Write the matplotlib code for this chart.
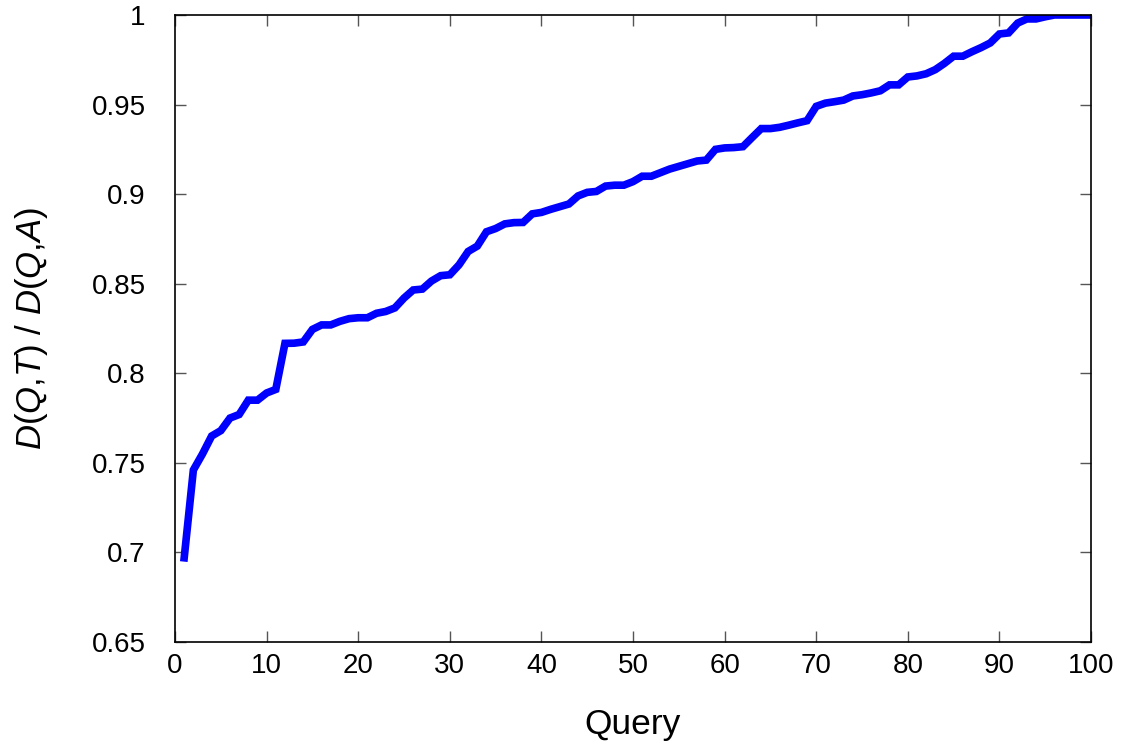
import matplotlib
matplotlib.use('Agg')
import matplotlib.pyplot as plt

plt.rcParams['font.family'] = ['Liberation Sans', 'DejaVu Sans']
plt.rcParams['mathtext.fontset'] = 'custom'
plt.rcParams['mathtext.rm'] = 'Liberation Sans'
plt.rcParams['mathtext.it'] = 'Liberation Sans:italic'

# one ratio per query, sorted ascending
queries = list(range(1, 101))
ratios = [
    0.697, 0.746, 0.755, 0.765, 0.768, 0.775, 0.777, 0.785, 0.785, 0.789,
    0.791, 0.8167, 0.8168, 0.8175, 0.8245, 0.827, 0.827, 0.829, 0.8305, 0.831,
    0.831, 0.8335, 0.8345, 0.8365, 0.842, 0.8465, 0.847, 0.8515, 0.8545, 0.855,
    0.8605, 0.868, 0.871, 0.879, 0.8808, 0.8834, 0.8841, 0.8842, 0.889, 0.8898,
    0.8915, 0.893, 0.8945, 0.899, 0.901, 0.9015, 0.9045, 0.905, 0.905, 0.907,
    0.910, 0.910, 0.912, 0.914, 0.9155, 0.917, 0.9185, 0.919, 0.925, 0.9258,
    0.926, 0.9265, 0.9316, 0.9366, 0.9366, 0.9373, 0.9385, 0.9398, 0.941, 0.949,
    0.9508, 0.9516, 0.9525, 0.9548, 0.9555, 0.9565, 0.9577, 0.961, 0.961, 0.9654,
    0.966, 0.9672, 0.9695, 0.973, 0.977, 0.977, 0.9795, 0.9818, 0.9844, 0.9894,
    0.990, 0.9955, 0.9978, 0.9978, 0.999, 1.0, 1.0, 1.0, 1.0, 1.0,
]
xticks = [0, 10, 20, 30, 40, 50, 60, 70, 80, 90, 100]
yticks = [0.65, 0.7, 0.75, 0.8, 0.85, 0.9, 0.95, 1.0]
yticklabels = ['0.65', '0.7', '0.75', '0.8', '0.85', '0.9', '0.95', '1']

fig = plt.figure(figsize=(11.3, 7.46), dpi=100)
ax = fig.add_axes([0.1549, 0.1394, 0.8106, 0.8405])

ax.plot(queries, ratios, color='#0000ff', linewidth=5.5, solid_joinstyle='miter')

ax.set_xlim(0, 100)
ax.set_ylim(0.65, 1.0)
ax.set_xticks(xticks)
ax.set_yticks(yticks)
ax.set_yticklabels(yticklabels)
ax.tick_params(direction='in', length=8, width=1, color='#555555',
               top=True, right=True, labelsize=20)
ax.tick_params(axis='x', pad=8)
ax.tick_params(axis='y', pad=21)
for s in ax.spines.values():
    s.set_linewidth(1.2)

ax.set_xlabel('Query', fontsize=25.5, labelpad=21)
ax.set_ylabel(r'$D$($Q$,$T$) / $D$($Q$,$A$)', fontsize=25, labelpad=30)

fig.savefig('out.png', dpi=100)
